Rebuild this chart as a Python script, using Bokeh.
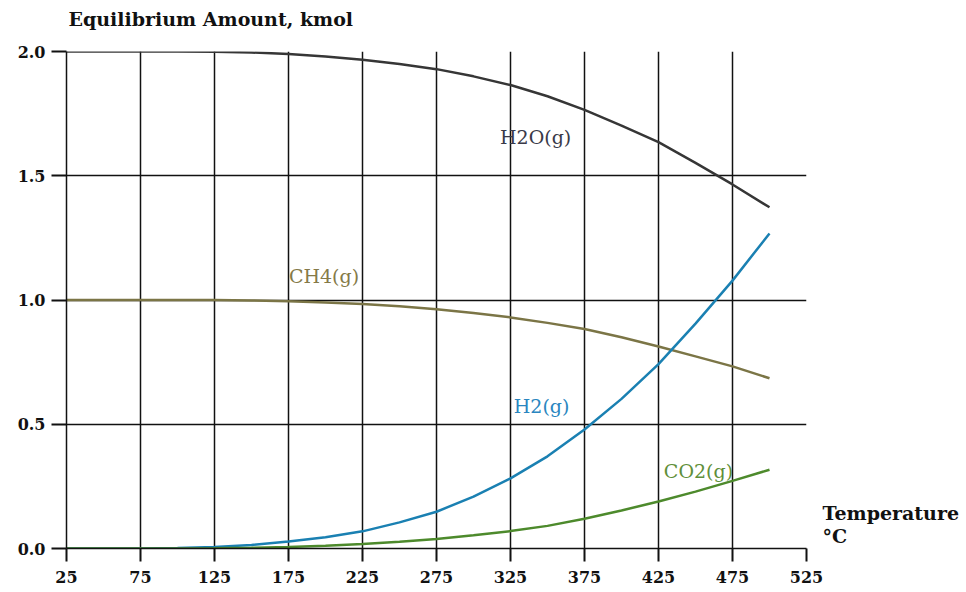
from bokeh.plotting import figure
from bokeh.models import FixedTicker, Label, Range1d, CustomJSTickFormatter
from bokeh.embed import file_html
from bokeh.resources import INLINE

# Equilibrium composition of CH4 + 2 H2O -> CO2 + 4 H2 versus temperature
temperature = [25, 50, 75, 100, 125, 150, 175, 200, 225, 250,
               275, 300, 325, 350, 375, 400, 425, 450, 475, 500]
h2o = [2.0, 2.0, 2.0, 2.0, 1.999, 1.996, 1.99, 1.98, 1.967, 1.95,
       1.929, 1.90, 1.865, 1.82, 1.765, 1.702, 1.635, 1.552, 1.465, 1.373]
ch4 = [1.0, 1.0, 1.0, 1.0, 0.9995, 0.998, 0.995, 0.99, 0.984, 0.975,
       0.963, 0.948, 0.930, 0.908, 0.883, 0.85, 0.813, 0.773, 0.733, 0.685]
h2 = [0.0, 0.0, 0.0, 0.002, 0.006, 0.014, 0.028, 0.045, 0.069, 0.105,
      0.148, 0.209, 0.282, 0.371, 0.479, 0.602, 0.742, 0.905, 1.078, 1.268]
co2 = [0.0, 0.0, 0.0, 0.0, 0.001, 0.003, 0.006, 0.011, 0.018, 0.027,
       0.038, 0.053, 0.070, 0.091, 0.12, 0.153, 0.189, 0.229, 0.272, 0.317]

x_ticks = [25, 75, 125, 175, 225, 275, 325, 375, 425, 475, 525]
y_ticks = [0.0, 0.5, 1.0, 1.5, 2.0]

series = [
    # name, values, line colour, label colour, label x, label y
    ("H2O(g)", h2o, "#363636", "#3a3a48", 342, 1.657),
    ("CH4(g)", ch4, "#7b7546", "#857a48", 199, 1.095),
    ("H2(g)", h2, "#1a80b2", "#2a86c0", 346, 0.575),
    ("CO2(g)", co2, "#4d8a2c", "#5f8f3a", 452, 0.311),
]

FONT = "DejaVu Serif"
INK = "#111111"

p = figure(width=966, height=592, output_backend="svg", toolbar_location=None,
           x_range=Range1d(25, 525), y_range=Range1d(0, 2.0),
           min_border_left=66, min_border_right=160,
           min_border_top=51, min_border_bottom=44,
           background_fill_color="white", border_fill_color="white")
p.outline_line_color = None

for ax, ticks in ((p.xaxis, x_ticks), (p.yaxis, y_ticks)):
    ax.ticker = FixedTicker(ticks=ticks)
    ax.axis_line_color = INK
    ax.axis_line_width = 1.5
    ax.major_tick_line_color = INK
    ax.major_tick_line_width = 2
    ax.major_tick_in = 0
    ax.minor_tick_line_color = None
    ax.major_label_text_font = FONT
    ax.major_label_text_font_style = "bold"
    ax.major_label_text_font_size = "16px"
    ax.major_label_text_color = INK

p.xaxis.major_tick_out = 13
p.xaxis.major_label_standoff = 9
p.yaxis.major_tick_out = 15
p.yaxis.major_label_standoff = 6
p.yaxis.formatter = CustomJSTickFormatter(code="return tick.toFixed(1);")

for g in (p.xgrid, p.ygrid):
    g.grid_line_color = INK
    g.grid_line_width = 1.5
    g.grid_line_alpha = 1.0
p.xgrid.ticker = FixedTicker(ticks=x_ticks)
p.ygrid.ticker = FixedTicker(ticks=y_ticks)

for name, vals, lc, tc, lx, ly in series:
    p.line(temperature, vals, line_color=lc, line_width=2.5)
    p.add_layout(Label(x=lx, y=ly, text=name, text_align="center",
                       text_baseline="alphabetic", text_font=FONT,
                       text_font_size="19px", text_color=tc))

# quantity caption above the frame, flush with its left edge
p.add_layout(Label(x=2, y=33, x_units="screen", y_units="screen",
                   text="Equilibrium Amount, kmol", text_font=FONT,
                   text_font_style="bold", text_font_size="19px",
                   text_color=INK, text_baseline="alphabetic"), "above")

# temperature caption in the panel to the right of the frame
p.add_layout(Label(x=16, y=47, x_units="screen", y_units="screen",
                   text="Temperature\n°C", text_font=FONT,
                   text_font_style="bold", text_font_size="19px",
                   text_line_height=1.05, text_color=INK,
                   text_baseline="top"), "right")

open("out.html", "w").write(file_html(p, INLINE))
